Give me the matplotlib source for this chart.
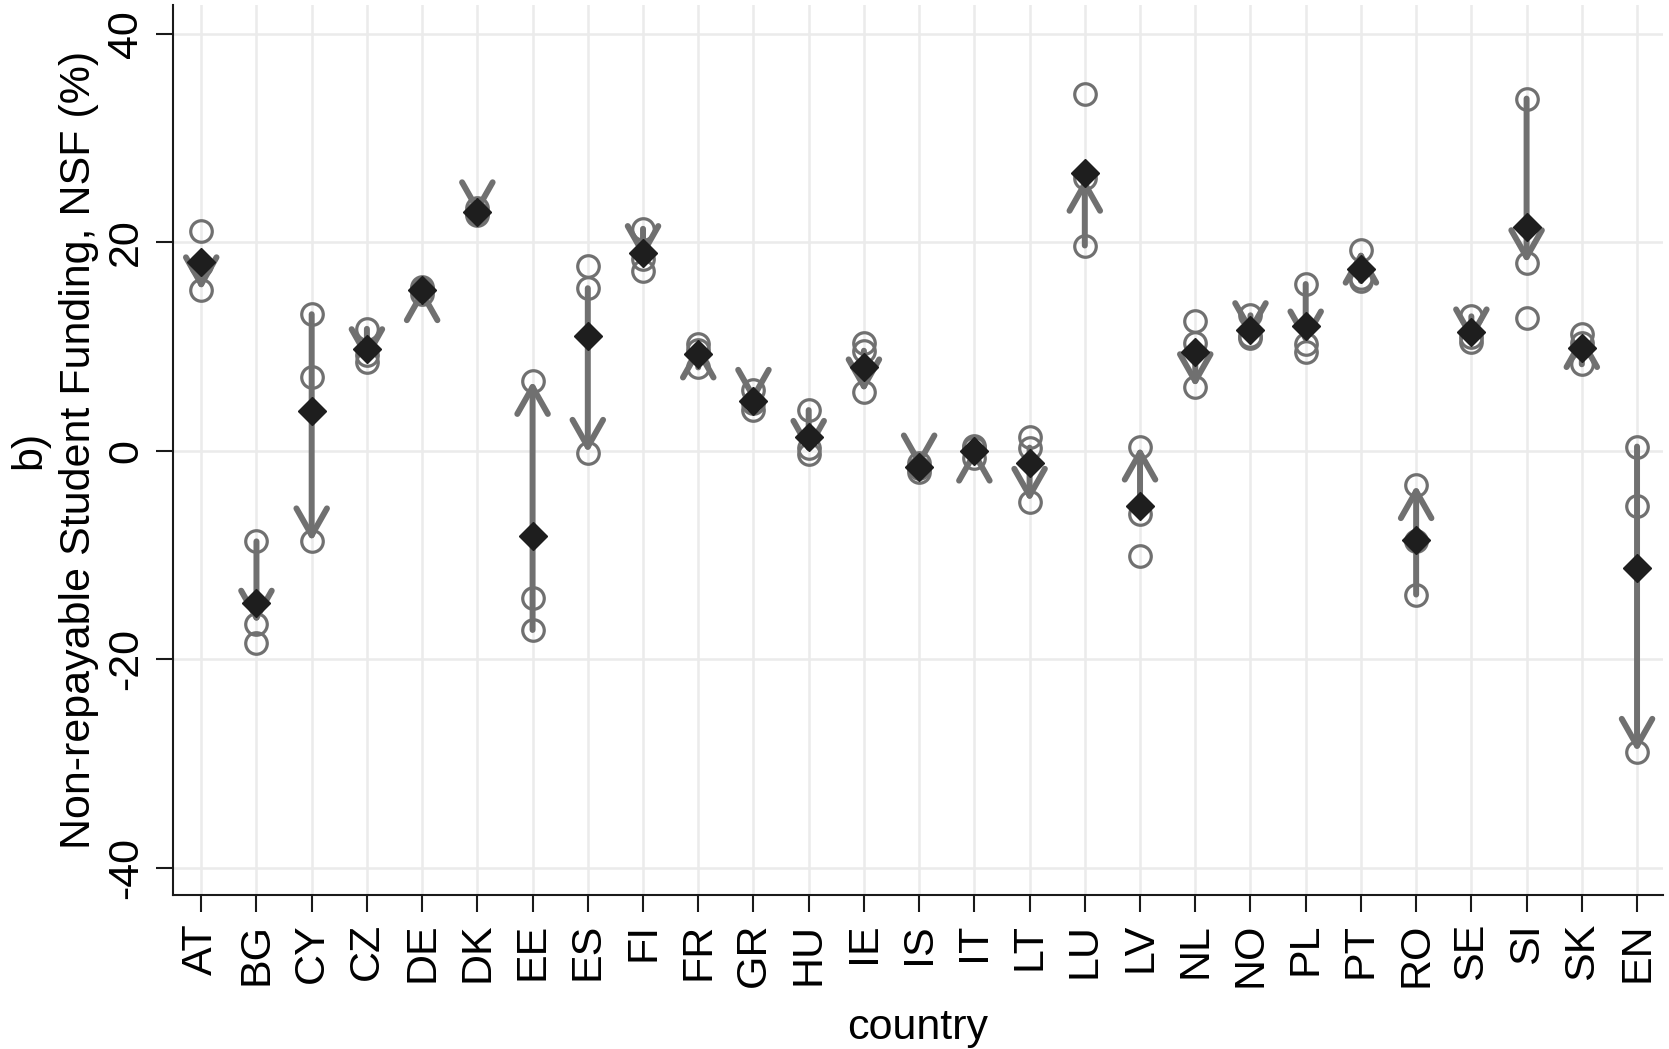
import matplotlib
matplotlib.use("Agg")
import matplotlib.pyplot as plt

plt.rcParams['font.family'] = ['Liberation Sans', 'DejaVu Sans']

# countries on the x axis
countries = ['AT', 'BG', 'CY', 'CZ', 'DE', 'DK', 'EE', 'ES', 'FI', 'FR', 'GR', 'HU', 'IE', 'IS',
             'IT', 'LT', 'LU', 'LV', 'NL', 'NO', 'PL', 'PT', 'RO', 'SE', 'SI', 'SK', 'EN']

# NSF (%)
arrow_from = [17.8, -8.7, 13.1, 11.7, 15.0, 23.3, -17.2, 15.6, 21.3, 8.0, 5.8, 3.9, 9.6, -1.2,
              -0.7, 0.3, 19.7, -6.1, 10.3, 13.0, 16.0, 16.3, -13.8, 12.9, 33.8, 8.3, 0.4]
arrow_to = [15.4, -16.6, -8.7, 8.5, 15.7, 22.6, 6.7, -0.2, 18.4, 10.2, 4.6, -0.3, 5.6, -1.7,
            0.3, -4.9, 26.2, 0.4, 6.1, 11.0, 10.2, 19.3, -3.3, 10.4, 18.0, 11.2, -28.9]
other_point = [21.1, -18.5, 7.1, 9.2, 15.5, 22.8, -14.1, 17.7, 17.3, 9.7, 3.9, 0.3, 10.3, -2.0,
               0.5, 1.3, 34.2, -10.1, 12.5, 10.8, 9.5, 16.6, -8.7, 10.9, 12.7, 10.3, -5.3]
average = [18.1, -14.6, 3.8, 9.8, 15.4, 22.9, -8.2, 11.0, 19.0, 9.3, 4.8, 1.3, 8.0, -1.6,
           0.0, -1.2, 26.7, -5.3, 9.5, 11.6, 12.0, 17.4, -8.6, 11.4, 21.5, 9.9, -11.3]

grey = '#707070'
dark = '#1e1e1e'

fig = plt.figure(figsize=(16.69, 10.49), dpi=100)
ax = fig.add_axes([0.1035, 0.1468, 0.8929, 0.8484])

x = list(range(len(countries)))

# hollow circles
for vals in (arrow_from, arrow_to, other_point):
    ax.plot(x, vals, 'o', ls='none', ms=15.5, mfc='none', mec=grey, mew=2.3, zorder=2)

# arrows
for i in x:
    ax.annotate('', xy=(i, arrow_to[i]), xytext=(i, arrow_from[i]),
                arrowprops=dict(arrowstyle='->,head_length=0.97,head_width=0.55',
                                mutation_scale=20, lw=4.3, color=grey,
                                shrinkA=0, shrinkB=0, capstyle='round',
                                joinstyle='round'),
                zorder=3)

# averages
ax.plot(x, average, 'D', ls='none', ms=14.5, color=dark, mec=dark, zorder=4)

ax.set_xlim(-0.516, 26.47)
ax.set_ylim(-42.64, 42.78)
ax.set_xticks(x)
ax.set_xticklabels(countries, rotation=90, fontsize=31)
ax.set_yticks([-40, -20, 0, 20, 40])
ax.set_yticklabels(['-40', '-20', '0', '20', '40'], rotation=90, va='center', fontsize=31)

ax.grid(True, color='#ebebeb', lw=1.8, zorder=0)
ax.set_axisbelow(True)
for s in ('top', 'right'):
    ax.spines[s].set_visible(False)
for s in ('left', 'bottom'):
    ax.spines[s].set_linewidth(1.5)
    ax.spines[s].set_color('#1a1a1a')
ax.tick_params(axis='both', length=12, width=1.5, color='#1a1a1a')
ax.tick_params(axis='x', pad=8)
ax.tick_params(axis='y', pad=7)

ax.set_ylabel('b)\nNon-repayable Student Funding, NSF (%)', fontsize=31, linespacing=1.3)
ax.yaxis.set_label_coords(-0.0495, 0.5)
ax.set_xlabel('country', fontsize=31)
ax.xaxis.set_label_coords(0.5, -0.127)

fig.savefig('out.png', dpi=100)
